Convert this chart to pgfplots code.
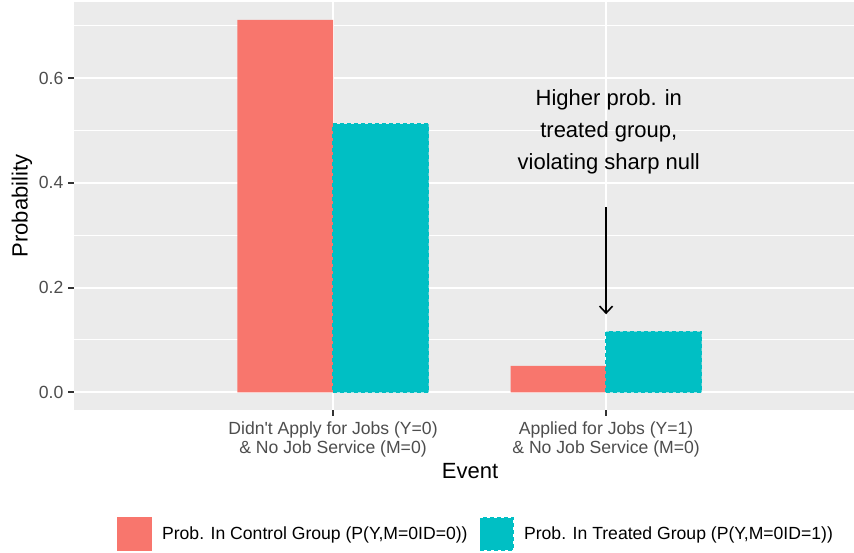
\documentclass[border=0pt]{standalone}
\usepackage{pgfplots}
\pgfplotsset{compat=1.18}
\usepackage{fontspec}
\setmainfont{Liberation Sans}
\usetikzlibrary{arrows.meta}
\definecolor{gbg}{HTML}{EBEBEB}
\definecolor{cred}{HTML}{F8766D}
\definecolor{cteal}{HTML}{00BFC4}
\definecolor{gthirty}{HTML}{4D4D4D}
\definecolor{gtwenty}{HTML}{333333}
\begin{document}
\begin{tikzpicture}[x=1pt,y=1pt]
\path[use as bounding box] (0,0) rectangle (854,552);
\begin{axis}[
  at={(74pt,142pt)}, anchor=south west,
  scale only axis, width=792pt, height=408pt,
  xmin=0.0513, xmax=2.952, ymin=-0.0337, ymax=0.745,
  axis background/.style={fill=gbg},
  axis line style={draw=none},
  ybar, bar width=0.35,
  xtick={1,2},
  xticklabels={{Didn\textquotesingle t Apply for Jobs (Y=0)\\ \& No Job Service (M=0)},{Applied for Jobs (Y=1)\\ \& No Job Service (M=0)}},
  ytick={0,0.2,0.4,0.6}, yticklabels={0.0,0.2,0.4,0.6},
  minor ytick={0.1,0.3,0.5,0.7},
  xmajorgrids, ymajorgrids, yminorgrids,
  major grid style={white, line width=2.1pt},
  minor grid style={white, line width=1.07pt},
  tick align=outside, tick pos=left,
  major tick length=5.5pt, minor tick length=0pt,
  tick style={gtwenty, line width=2.1pt},
  xticklabel style={font=\fontsize{17.6}{19}\selectfont, text=gthirty, align=center, inner sep=0pt, anchor=north, yshift=-6.5pt},
  yticklabel style={font=\fontsize{17.6}{18.5}\selectfont, text=gthirty, inner sep=0pt, anchor=east, xshift=-5pt},
  xlabel={Event}, ylabel={Probability},
  xlabel style={font=\fontsize{22}{26}\selectfont, at={(axis description cs:0.5,-0.1667)}, anchor=base},
  ylabel style={font=\fontsize{22}{26}\selectfont, at={(axis description cs:-0.0657,0.5)}, anchor=center},
  legend columns=2,
  legend style={draw=none, fill=none, at={(axis description cs:0.5063,-0.304)}, anchor=center,
    font=\fontsize{17.6}{20}\selectfont, nodes={inner sep=0pt},
    /tikz/every odd column/.append style={column sep=10pt},
    /tikz/every even column/.append style={column sep=12pt}},
]
\addplot[fill=cred, draw=none, bar shift=-0.175,
  legend image code/.code={\fill[cred] (0pt,-17pt) rectangle (35pt,17pt);}]
  coordinates {(1,0.711) (2,0.0507)};
\addlegendentry{Prob. In Control Group (P(Y,M=0ID=0))}
\addplot[fill=cteal, draw=cteal, line width=1.5pt, dash pattern=on 4pt off 3pt, bar shift=0.175,
  legend image code/.code={\draw[fill=cteal, draw=cteal, line width=1.5pt, dash pattern=on 4pt off 3pt] (0pt,-16pt) rectangle (33pt,16pt);}]
  coordinates {(1,0.512) (2,0.116)};
\addlegendentry{Prob. In Treated Group (P(Y,M=0ID=1))}
\draw[black, line width=1.6pt, -{Straight Barb[length=7pt,width=13pt]}] (axis cs:2,0.353) -- (axis cs:2,0.149);
\node[align=center, font=\fontsize{22}{32}\selectfont, anchor=center] at (axis cs:2.01,0.497) {Higher prob. in\\treated group,\\violating sharp null};
\end{axis}
\end{tikzpicture}
\end{document}
